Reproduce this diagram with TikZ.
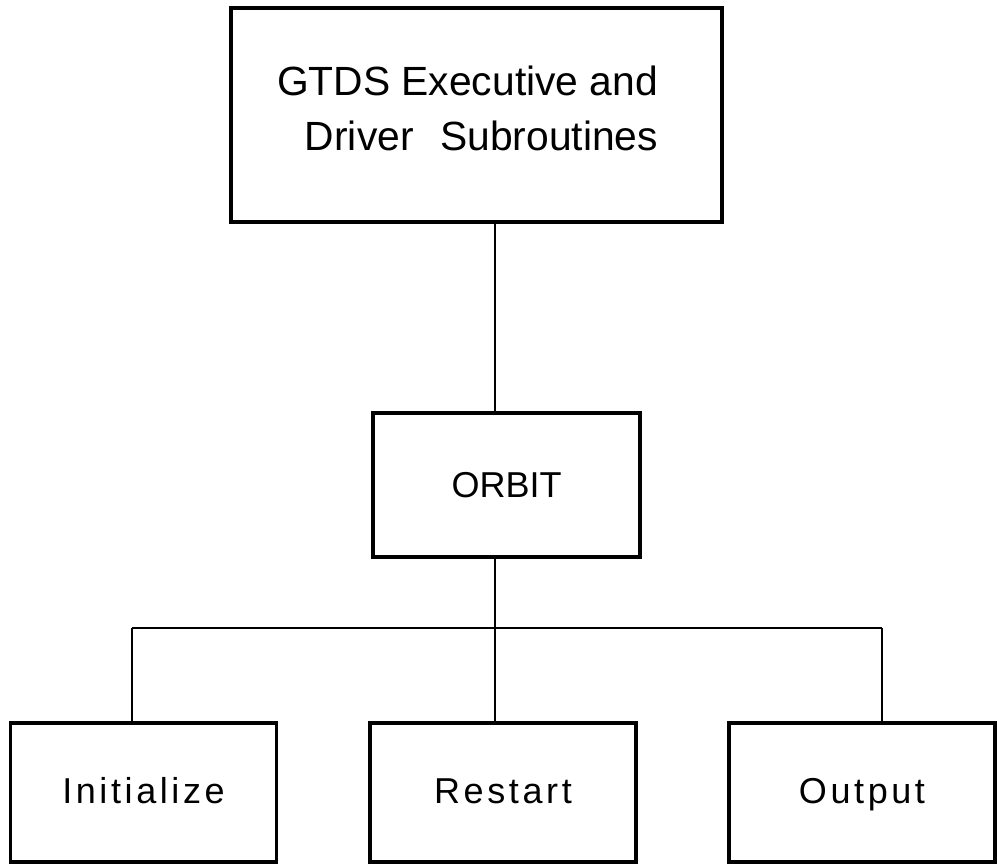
\documentclass[tikz,border=0pt]{standalone}
\usepackage{fontspec}
\setmainfont{Liberation Sans}
\newfontfamily\widefont[LetterSpace=10]{Liberation Sans}
\usetikzlibrary{positioning}

\begin{document}
\begin{tikzpicture}[
  x=0.5pt, y=-0.5pt,
  every node/.style={align=center},
  box/.style={draw=black, line width=1.6pt, inner sep=0pt},
  leaf/.style={box, minimum width=133pt, minimum height=69.5pt,
               text height=13pt, text depth=2pt,
               font=\widefont\fontsize{18}{21}\selectfont},
  link/.style={draw=black, line width=1.1pt},
]
\useasboundingbox (0,0) rectangle (997,866);

% executive and ORBIT
\node[box, minimum width=245.5pt, minimum height=107pt] (exec) at (476.5,115) {};
\node[font=\fontsize{20.4}{27.5}\selectfont, align=right] (exectext) at (467.5,108)
  {GTDS Executive and\\Driver\hspace{0.65em}Subroutines};
\node[box, minimum width=133.5pt, minimum height=72pt,
      font=\fontsize{18}{21}\selectfont] (orbit) at (506.5,485) {ORBIT};

% branch points
\coordinate (bus)  at (495,628);
\coordinate (busL) at (132,628);
\coordinate (busR) at (882,628);

\foreach \nm/\x/\txt in {init/143.5/Initialize, restart/503/Restart, outp/862/Output}{
  \node[leaf] (\nm) at (\x,792.5) {\txt};
}

\draw[link] (exec.south -| bus) -- (orbit.north -| bus);
\draw[link] (orbit.south -| bus) -- (bus);
\draw[link] (busL) -- (busR);
\draw[link] (busL) -- (init.north -| busL);
\draw[link] (bus) -- (restart.north -| bus);
\draw[link] (busR) -- (outp.north -| busR);

\end{tikzpicture}
\end{document}
